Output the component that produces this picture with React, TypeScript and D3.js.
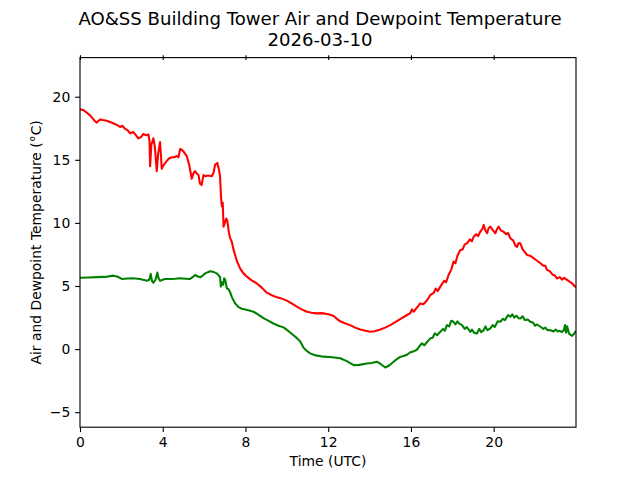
import { useEffect, useRef } from 'react';
import * as d3 from 'd3';

// Air temperature (red), hours UTC / °C
const airTimes = [
  0, 0.15, 0.32, 0.5, 0.7, 0.81, 0.97, 1.1, 1.29, 1.45, 1.61, 1.8, 1.94, 2.05, 2.18, 2.3, 2.42, 2.58, 2.7, 2.82,
  2.95, 3.06, 3.2, 3.31, 3.36, 3.39, 3.45, 3.55, 3.62, 3.71, 3.78, 3.87, 3.92, 3.95, 4.05, 4.19, 4.3, 4.44, 4.56, 4.68,
  4.76, 4.84, 4.92, 5.0, 5.16, 5.28, 5.4, 5.48, 5.56, 5.65, 5.73, 5.8, 5.88, 5.97, 6.05, 6.2, 6.37, 6.46, 6.53, 6.64,
  6.72, 6.77, 6.82, 6.86, 6.9, 6.94, 7.0, 7.07, 7.12, 7.2, 7.26, 7.34, 7.42, 7.58, 7.74, 7.9, 8.07, 8.3, 8.55, 8.8,
  9.03, 9.3, 9.52, 9.75, 10.0, 10.25, 10.48, 10.72, 10.97, 11.2, 11.45, 11.7, 11.94, 12.1, 12.26, 12.42, 12.58, 12.8, 13.06, 13.3,
  13.55, 13.8, 14.03, 14.25, 14.52, 14.75, 15.0, 15.2, 15.4, 15.6, 15.81, 15.97, 16.05, 16.13, 16.3, 16.45, 16.6, 16.77, 16.94, 17.1,
  17.2, 17.3, 17.42, 17.6, 17.7, 17.82, 17.95, 18.06, 18.15, 18.25, 18.39, 18.5, 18.6, 18.71, 18.85, 18.95, 19.03, 19.15, 19.25, 19.35,
  19.45, 19.52, 19.6, 19.68, 19.76, 19.84, 19.95, 20.08, 20.16, 20.24, 20.35, 20.48, 20.6, 20.7, 20.81, 20.95, 21.05, 21.13, 21.2, 21.29,
  21.4, 21.5, 21.61, 21.75, 21.85, 21.94, 22.1, 22.26, 22.4, 22.5, 22.58, 22.7, 22.85, 22.95, 23.06, 23.2, 23.3, 23.4, 23.55, 23.7,
  23.8, 23.9, 23.98,
];
const airTemps = [
  19.0, 18.95, 18.75, 18.5, 18.1, 17.95, 18.2, 18.15, 18.1, 18.0, 17.9, 17.75, 17.6, 17.7, 17.45, 17.35, 17.1, 17.2, 16.95, 16.7,
  16.8, 17.05, 16.95, 17.0, 16.5, 14.5, 16.2, 16.7, 16.0, 14.1, 15.5, 16.4, 15.2, 14.3, 14.6, 14.9, 15.1, 15.2, 15.2, 15.3,
  15.2, 15.85, 15.8, 15.66, 15.3, 14.6, 13.5, 13.9, 14.1, 13.9, 13.8, 13.1, 13.0, 13.8, 13.7, 13.75, 13.7, 14.0, 14.6, 14.75,
  14.2, 13.7, 12.0, 11.3, 11.6, 9.7, 10.0, 10.35, 10.2, 9.2, 8.8, 8.5, 7.9, 7.0, 6.4, 6.0, 5.74, 5.45, 5.2, 4.85,
  4.47, 4.25, 4.1, 4.0, 3.84, 3.6, 3.36, 3.15, 2.96, 2.88, 2.83, 2.85, 2.78, 2.72, 2.62, 2.4, 2.2, 2.05, 1.9, 1.7,
  1.56, 1.45, 1.37, 1.42, 1.56, 1.7, 1.9, 2.1, 2.3, 2.5, 2.7, 2.85, 3.15, 2.96, 3.3, 3.62, 3.55, 3.85, 4.29, 4.45,
  4.8, 4.6, 4.95, 5.4, 5.3, 5.87, 6.3, 6.93, 6.8, 7.4, 7.86, 7.9, 8.3, 8.38, 8.7, 8.55, 8.9, 9.1, 8.95, 9.3,
  9.5, 9.84, 9.4, 9.18, 9.6, 9.7, 9.45, 9.18, 9.5, 9.7, 9.4, 9.3, 9.1, 9.2, 8.77, 8.6, 8.2, 8.1, 8.4, 8.38,
  7.9, 7.7, 7.46, 7.4, 7.3, 7.19, 7.0, 6.8, 6.6, 6.6, 6.27, 6.2, 5.9, 5.85, 5.6, 5.7, 5.5, 5.65, 5.48, 5.3,
  5.2, 5.0, 4.9,
];

// Dewpoint temperature (green)
const dewTimes = [
  0, 0.4, 0.81, 1.2, 1.61, 1.8, 2.02, 2.3, 2.58, 2.9, 3.23, 3.35, 3.42, 3.48, 3.55, 3.65, 3.74, 3.8, 3.87, 4.1,
  4.35, 4.6, 4.84, 5.1, 5.32, 5.45, 5.56, 5.7, 5.81, 5.95, 6.05, 6.29, 6.45, 6.61, 6.7, 6.77, 6.81, 6.86, 6.92, 6.97,
  7.02, 7.1, 7.18, 7.26, 7.35, 7.5, 7.65, 7.82, 8.1, 8.39, 8.6, 8.87, 9.1, 9.35, 9.6, 9.84, 10.1, 10.32, 10.5, 10.65,
  10.81, 10.97, 11.13, 11.4, 11.77, 12.2, 12.58, 12.9, 13.23, 13.5, 13.87, 14.1, 14.35, 14.55, 14.76, 14.95, 15.16, 15.32, 15.5, 15.65,
  15.81, 15.97, 16.1, 16.29, 16.45, 16.53, 16.65, 16.8, 16.94, 17.05, 17.15, 17.26, 17.42, 17.55, 17.64, 17.74, 17.85, 17.95, 18.06, 18.15,
  18.25, 18.35, 18.47, 18.6, 18.7, 18.87, 18.95, 19.05, 19.19, 19.3, 19.4, 19.52, 19.6, 19.7, 19.84, 19.95, 20.05, 20.2, 20.32, 20.45,
  20.55, 20.7, 20.81, 20.9, 21.0, 21.1, 21.2, 21.29, 21.4, 21.5, 21.65, 21.77, 21.9, 22.0, 22.1, 22.26, 22.4, 22.5, 22.6, 22.74,
  22.9, 23.0, 23.1, 23.2, 23.3, 23.39, 23.45, 23.5, 23.55, 23.65, 23.79, 23.88, 23.98,
];
const dewTemps = [
  5.65, 5.68, 5.7, 5.72, 5.82, 5.75, 5.56, 5.6, 5.61, 5.55, 5.42, 5.5, 5.95, 5.4, 5.26, 5.5, 6.06, 5.6, 5.42, 5.55,
  5.56, 5.58, 5.61, 5.58, 5.56, 5.7, 5.87, 5.75, 5.69, 5.85, 6.0, 6.17, 6.12, 6.0, 5.85, 5.7, 4.95, 5.3, 5.1, 5.61,
  5.5, 4.82, 4.75, 4.5, 4.1, 3.62, 3.35, 3.2, 3.1, 2.96, 2.75, 2.45, 2.25, 2.03, 1.85, 1.72, 1.4, 1.1, 0.85, 0.6,
  0.1, -0.15, -0.34, -0.5, -0.6, -0.65, -0.72, -0.95, -1.27, -1.25, -1.14, -1.1, -1.0, -1.2, -1.46, -1.3, -1.0, -0.8, -0.6, -0.55,
  -0.45, -0.25, -0.2, -0.05, 0.32, 0.45, 0.3, 0.6, 0.85, 0.9, 1.25, 1.1, 1.37, 1.6, 1.45, 1.9, 1.8, 2.25, 2.17, 1.95,
  2.2, 2.0, 1.9, 1.6, 1.75, 1.37, 1.55, 1.3, 1.24, 1.6, 1.35, 1.5, 1.8, 1.5, 1.64, 1.9, 1.75, 2.2, 2.17, 2.4,
  2.3, 2.7, 2.56, 2.75, 2.5, 2.65, 2.45, 2.43, 2.6, 2.3, 2.35, 2.17, 2.1, 1.85, 1.95, 1.77, 1.6, 1.7, 1.5, 1.5,
  1.4, 1.55, 1.4, 1.45, 1.35, 1.5, 1.9, 1.3, 1.8, 1.2, 1.05, 1.2, 1.45,
];

const xTicks = [0, 4, 8, 12, 16, 20];
const yTicks = [-5, 0, 5, 10, 15, 20];
const titleLines = ['AO&SS Building Tower Air and Dewpoint Temperature', '2026-03-10'];

const W = 640;
const H = 480;
const margin = { top: 57.6, right: 64, bottom: 52.8, left: 80 };
const font = 'DejaVu Sans, sans-serif';

export default function App() {
  const xAxisRef = useRef<SVGGElement>(null);
  const yAxisRef = useRef<SVGGElement>(null);
  const topAxisRef = useRef<SVGGElement>(null);

  const innerW = W - margin.left - margin.right;
  const innerH = H - margin.top - margin.bottom;

  const x = d3.scaleLinear().domain([0, 23.98]).range([0, innerW]);
  const y = d3.scaleLinear().domain([-6.19, 23.1]).range([innerH, 0]);

  const line = d3
    .line<[number, number]>()
    .x((d) => x(d[0]))
    .y((d) => y(d[1]));

  const airPts = airTimes.map((t, i) => [t, airTemps[i]] as [number, number]);
  const dewPts = dewTimes.map((t, i) => [t, dewTemps[i]] as [number, number]);

  useEffect(() => {
    const tickLen = 4.86;
    const style = (g: d3.Selection<SVGGElement, unknown, null, undefined>) => {
      g.select('.domain').remove();
      g.selectAll('.tick line').attr('stroke', '#000').attr('stroke-width', 1.11);
      g.selectAll('.tick text')
        .attr('fill', '#000')
        .style('font-family', font)
        .style('font-size', '13.9px');
    };

    if (xAxisRef.current) {
      const g = d3.select(xAxisRef.current);
      g.selectAll('*').remove();
      g.call(d3.axisBottom(x).tickValues(xTicks).tickSize(tickLen).tickPadding(tickLen).tickSizeOuter(0));
      style(g);
    }
    if (yAxisRef.current) {
      const g = d3.select(yAxisRef.current);
      g.selectAll('*').remove();
      g.call(d3.axisLeft(y).tickValues(yTicks).tickSize(tickLen).tickPadding(tickLen).tickSizeOuter(0));
      style(g);
    }
    if (topAxisRef.current) {
      const g = d3.select(topAxisRef.current);
      g.selectAll('*').remove();
      g.call(d3.axisTop(x).tickValues(xTicks).tickSize(4.8).tickFormat(() => '').tickSizeOuter(0));
      style(g);
    }
  }, []);

  return (
    <div style={{ position: 'fixed', left: 0, top: 0 }}>
      <svg width={W} height={H} style={{ display: 'block', background: '#fff' }}>
        <defs>
          <clipPath id="plot-clip">
            <rect x={0} y={0} width={innerW} height={innerH} />
          </clipPath>
        </defs>

        <text x={W / 2} textAnchor="middle" style={{ fontFamily: font, fontSize: '18.1px' }} fill="#000">
          <tspan x={W / 2} y={25}>{titleLines[0]}</tspan>
          <tspan x={W / 2} y={46}>{titleLines[1]}</tspan>
        </text>

        <g transform={`translate(${margin.left},${margin.top})`}>
          <g clipPath="url(#plot-clip)">
            <path d={line(airPts) ?? ''} fill="none" stroke="#ff0000" strokeWidth={2.08} strokeLinejoin="round" />
            <path d={line(dewPts) ?? ''} fill="none" stroke="#008000" strokeWidth={2.08} strokeLinejoin="round" />
          </g>

          <rect x={0} y={0} width={innerW} height={innerH} fill="none" stroke="#000" strokeWidth={1.11} />

          <g ref={xAxisRef} transform={`translate(0,${innerH})`} />
          <g ref={yAxisRef} />
          <g ref={topAxisRef} transform="translate(0,2.4)" />

          <text
            x={innerW / 2}
            y={innerH + 38.8}
            textAnchor="middle"
            style={{ fontFamily: font, fontSize: '13.9px' }}
            fill="#000"
          >
            Time (UTC)
          </text>
          <text
            transform={`translate(${41 - margin.left},${innerH / 2}) rotate(-90)`}
            textAnchor="middle"
            style={{ fontFamily: font, fontSize: '13.9px' }}
            fill="#000"
          >
            Air and Dewpoint Temperature (°C)
          </text>
        </g>
      </svg>
    </div>
  );
}
